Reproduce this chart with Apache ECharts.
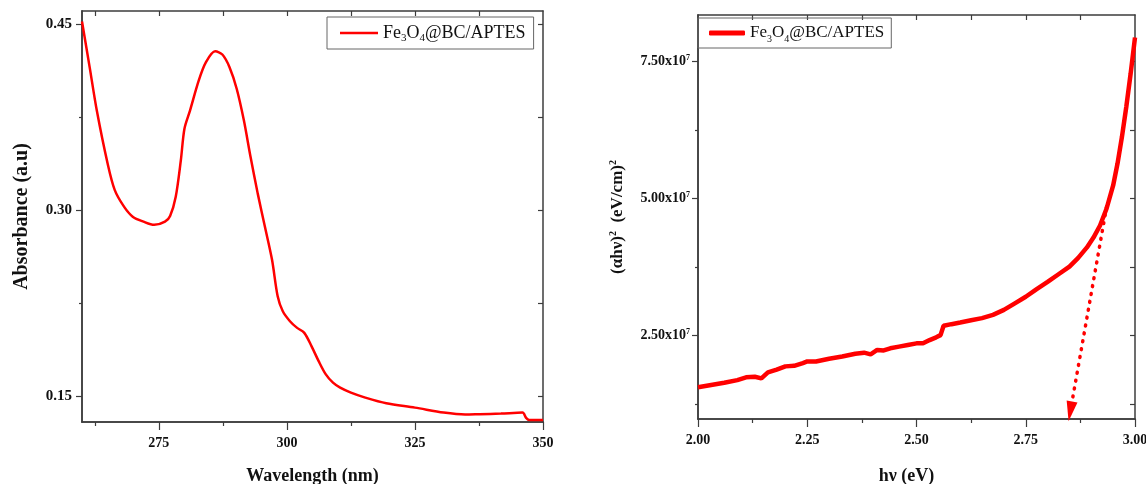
<!DOCTYPE html>
<html>
<head>
<meta charset="utf-8">
<script src="https://cdn.jsdelivr.net/npm/echarts@6.0.0/dist/echarts.min.js"></script>
<style>
html,body{margin:0;padding:0;background:#fff;}
#chart{width:1146px;height:484px;}
</style>
</head>
<body>
<div id="chart"></div>
<script>
// ---------- Data ----------
const legendLabel = 'Fe{sub|3}O{sub|4}@BC/APTES';

// Left panel: UV-Vis absorbance
const wavelength = [260, 261.5, 262.9, 265.0, 266.4, 268.2, 269.9, 272.0, 274.1, 276.2, 277.2, 278.3, 279.3, 280.0, 281.1, 282.8, 284.2, 286.0, 287.4, 288.8, 290.2, 291.6, 292.9, 294.3, 295.7, 297.1, 298.2, 299.2, 300.6, 302.0, 303.4, 304.8, 306.2, 307.6, 309.0, 310.4, 312.5, 315.3, 319.4, 325.0, 330.6, 334.8, 337.6, 341.8, 346.0, 346.7, 347.3, 350];
const absorbance = [0.452, 0.415, 0.380, 0.3375, 0.316, 0.3027, 0.2946, 0.2906, 0.288, 0.2906, 0.2952, 0.3107, 0.3402, 0.3656, 0.3804, 0.4045, 0.4192, 0.428, 0.4254, 0.4152, 0.3978, 0.3723, 0.3429, 0.3134, 0.2866, 0.2598, 0.2304, 0.2183, 0.2103, 0.2049, 0.2009, 0.1902, 0.1781, 0.1674, 0.1607, 0.1567, 0.1527, 0.1487, 0.1441, 0.1406, 0.1366, 0.135, 0.1353, 0.1358, 0.1366, 0.1324, 0.1307, 0.1307];
const wlMajorTicks = [275, 300, 325, 350];
const wlMinorTicks = [262.5, 287.5, 312.5, 337.5];
const wlAllTicks = [262.5, 275, 287.5, 300, 312.5, 325, 337.5];
const absMajorTicks = [0.15, 0.30, 0.45];
const absMinorTicks = [0.225, 0.375];

// Right panel: Tauc plot
const photonEnergy = [2.000, 2.030, 2.060, 2.090, 2.110, 2.130, 2.145, 2.160, 2.180, 2.200, 2.220, 2.240, 2.250, 2.270, 2.300, 2.330, 2.360, 2.380, 2.395, 2.410, 2.425, 2.440, 2.460, 2.480, 2.500, 2.515, 2.530, 2.545, 2.555, 2.562, 2.580, 2.600, 2.625, 2.650, 2.675, 2.700, 2.725, 2.750, 2.775, 2.800, 2.825, 2.850, 2.870, 2.890, 2.905, 2.920, 2.935, 2.950, 2.960, 2.970, 2.980, 2.990, 3.000];
const taucValues = [1.56e7, 1.60e7, 1.64e7, 1.69e7, 1.74e7, 1.75e7, 1.72e7, 1.83e7, 1.88e7, 1.94e7, 1.95e7, 2.00e7, 2.03e7, 2.03e7, 2.08e7, 2.12e7, 2.17e7, 2.19e7, 2.16e7, 2.24e7, 2.23e7, 2.27e7, 2.30e7, 2.33e7, 2.36e7, 2.36e7, 2.42e7, 2.47e7, 2.51e7, 2.68e7, 2.71e7, 2.74e7, 2.78e7, 2.82e7, 2.88e7, 2.97e7, 3.09e7, 3.21e7, 3.35e7, 3.48e7, 3.62e7, 3.76e7, 3.92e7, 4.11e7, 4.29e7, 4.51e7, 4.82e7, 5.24e7, 5.64e7, 6.12e7, 6.67e7, 7.28e7, 7.94e7];
const evMajorTicks = [2.00, 2.25, 2.50, 2.75, 3.00];
const evMinorTicks = [2.125, 2.375, 2.625, 2.875];
const evAllTicks = [2.125, 2.25, 2.375, 2.5, 2.625, 2.75, 2.875];
const taucMajorTicks = [2.5e7, 5.0e7, 7.5e7];
const taucMinorTicks = [1.25e7, 3.75e7, 6.25e7];
const taucAllTicks = [1.25e7, 2.5e7, 3.75e7, 5.0e7, 6.25e7, 7.5e7];
// Extrapolation arrow (band gap)
const arrowStart = [2.935, 4.85e7];
const arrowEnd = [2.852, 1.12e7];

// ---------- Styles ----------
const SERIF = 'Liberation Serif';
const AXC = '#3c3c3c';
const lineAx = {show: true, lineStyle: {color: AXC, width: 1.5}};
function tickAx(vals, len, inside) {
  return {show: true, customValues: vals, length: len, inside: !!inside, lineStyle: {color: AXC, width: 1.2}};
}
const noLabel = {show: false};
const tickLabel = {fontFamily: SERIF, fontWeight: 'bold', fontSize: 14, color: '#111'};

const chart = echarts.init(document.getElementById('chart'), null, {renderer: 'canvas'});

const grids = [
  {left: 82, top: 11, width: 461, height: 411, outerBoundsMode: 'none', containLabel: false},
  {left: 698, top: 15, width: 437, height: 404, outerBoundsMode: 'none', containLabel: false}
];

const xAxes = [
  {gridIndex: 0, type: 'value', position: 'bottom', min: 260, max: 350,
   axisLine: lineAx, axisTick: tickAx(wlMajorTicks, 8),
   axisLabel: Object.assign({customValues: wlMajorTicks, margin: 14}, tickLabel),
   splitLine: {show: false},
   name: 'Wavelength (nm)', nameLocation: 'middle', nameGap: 45,
   nameTextStyle: {fontFamily: SERIF, fontWeight: 'bold', fontSize: 18, color: '#111'}},
  {gridIndex: 0, type: 'value', position: 'bottom', min: 260, max: 350,
   axisLine: lineAx, axisTick: tickAx(wlMinorTicks, 4), axisLabel: noLabel, splitLine: {show: false}},
  {gridIndex: 0, type: 'value', position: 'top', min: 260, max: 350,
   axisLine: lineAx, axisTick: tickAx(wlAllTicks, 5, true), axisLabel: noLabel, splitLine: {show: false}},
  {gridIndex: 1, type: 'value', position: 'bottom', min: 2, max: 3,
   axisLine: lineAx, axisTick: tickAx(evMajorTicks, 8),
   axisLabel: Object.assign({customValues: evMajorTicks, margin: 14, formatter: v => v.toFixed(2)}, tickLabel),
   splitLine: {show: false},
   name: 'hν (eV)', nameLocation: 'middle', nameGap: 48,
   nameTextStyle: {fontFamily: SERIF, fontWeight: 'bold', fontSize: 18, color: '#111', padding: [0, 20, 0, 0]}},
  {gridIndex: 1, type: 'value', position: 'bottom', min: 2, max: 3,
   axisLine: lineAx, axisTick: tickAx(evMinorTicks, 4), axisLabel: noLabel, splitLine: {show: false}},
  {gridIndex: 1, type: 'value', position: 'top', min: 2, max: 3,
   axisLine: lineAx, axisTick: tickAx(evAllTicks, 5, true), axisLabel: noLabel, splitLine: {show: false}}
];

const yAxes = [
  {gridIndex: 0, type: 'value', position: 'left', min: 0.129, max: 0.4605,
   axisLine: lineAx, axisTick: tickAx(absMajorTicks, 6),
   axisLabel: Object.assign({customValues: absMajorTicks, margin: 10, formatter: v => v.toFixed(2)}, tickLabel, {fontSize: 15}),
   splitLine: {show: false},
   name: 'Absorbance (a.u)', nameLocation: 'middle', nameGap: 50, nameRotate: 90,
   nameTextStyle: {fontFamily: SERIF, fontWeight: 'bold', fontSize: 20, color: '#111'}},
  {gridIndex: 0, type: 'value', position: 'left', min: 0.129, max: 0.4605,
   axisLine: lineAx, axisTick: tickAx(absMinorTicks, 3), axisLabel: noLabel, splitLine: {show: false}},
  {gridIndex: 0, type: 'value', position: 'right', min: 0.129, max: 0.4605,
   axisLine: lineAx, axisTick: tickAx(absMajorTicks.concat(absMinorTicks), 5, true), axisLabel: noLabel, splitLine: {show: false}},
  {gridIndex: 1, type: 'value', position: 'left', min: 0.98e7, max: 8.35e7,
   axisLine: lineAx, axisTick: tickAx(taucMajorTicks, 6),
   axisLabel: Object.assign({customValues: taucMajorTicks, margin: 8,
     formatter: v => (v / 1e7).toFixed(2) + 'x10{s|7}',
     rich: {s: {fontFamily: SERIF, fontWeight: 'bold', fontSize: 8, verticalAlign: 'top', lineHeight: 16, color: '#111'}}
   }, tickLabel, {fontSize: 14, lineHeight: 16}),
   splitLine: {show: false},
   name: '(αhν){s|2}  (eV/cm){s|2}', nameLocation: 'middle', nameGap: 70, nameRotate: 90,
   nameTextStyle: {fontFamily: SERIF, fontWeight: 'bold', fontSize: 17, color: '#111', lineHeight: 20,
     rich: {s: {fontFamily: SERIF, fontWeight: 'bold', fontSize: 10, verticalAlign: 'top', lineHeight: 20, color: '#111'}}}},
  {gridIndex: 1, type: 'value', position: 'left', min: 0.98e7, max: 8.35e7,
   axisLine: lineAx, axisTick: tickAx(taucMinorTicks, 3), axisLabel: noLabel, splitLine: {show: false}},
  {gridIndex: 1, type: 'value', position: 'right', min: 0.98e7, max: 8.35e7,
   axisLine: lineAx, axisTick: tickAx(taucAllTicks, 5, true), axisLabel: noLabel, splitLine: {show: false}}
];

const legendRich = (fs) => ({
  fontFamily: SERIF, fontSize: fs, color: '#111', lineHeight: 22,
  rich: {sub: {fontFamily: SERIF, fontSize: Math.round(fs * 0.6), verticalAlign: 'bottom', lineHeight: 22, color: '#111'}}
});

const option = {
  animation: false,
  backgroundColor: '#fff',
  grid: grids,
  xAxis: xAxes,
  yAxis: yAxes,
  legend: [
    {data: ['abs'], left: 327, top: 17, padding: [5, 8, 5, 13], itemWidth: 38, itemHeight: 2.5,
     icon: 'rect', borderColor: '#666', borderWidth: 1, selectedMode: false,
     formatter: () => legendLabel, textStyle: legendRich(18)},
    {data: ['tauc'], left: 698, top: 18, padding: [4, 7, 4, 11], itemWidth: 36, itemHeight: 5,
     icon: 'roundRect', borderColor: '#666', borderWidth: 1, selectedMode: false,
     formatter: () => legendLabel, textStyle: legendRich(17)}
  ],
  series: [
    {name: 'abs', type: 'line', xAxisIndex: 0, yAxisIndex: 0, showSymbol: false, symbol: 'none',
     smooth: 0.3, lineStyle: {color: '#ff0000', width: 2.5}, itemStyle: {color: '#ff0000'},
     data: wavelength.map((w, i) => [w, absorbance[i]])},
    {name: 'tauc', type: 'line', xAxisIndex: 3, yAxisIndex: 3, showSymbol: false, symbol: 'none',
     lineStyle: {color: '#ff0000', width: 4.5}, itemStyle: {color: '#ff0000'},
     data: photonEnergy.map((e, i) => [e, taucValues[i]]),
     markLine: {
       silent: true, animation: false,
       symbol: ['none', 'triangle'], symbolSize: [11, 20],
       label: {show: false},
       lineStyle: {color: '#ff0000', width: 3.5, type: [1, 7], cap: 'round'},
       data: [[{coord: arrowStart}, {coord: arrowEnd}]]
     }}
  ]
};
chart.setOption(option);
</script>
</body>
</html>
